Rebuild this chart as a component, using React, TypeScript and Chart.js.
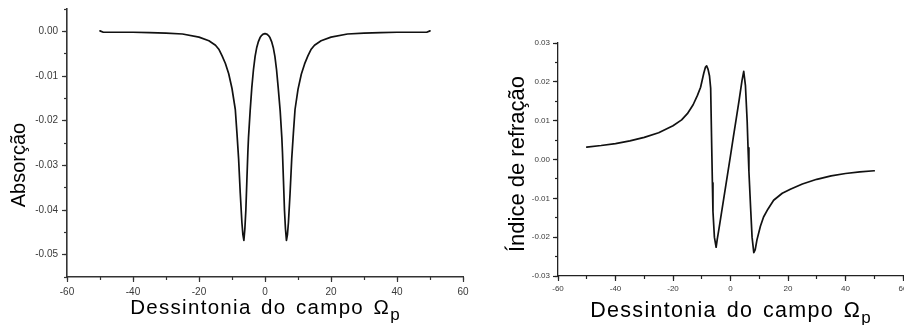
import React, { useEffect, useRef } from "react";
import { Chart, registerables } from "chart.js";

Chart.register(...registerables);

const FONT = "'Liberation Sans', Arial, sans-serif";

// ---- Absorption (left) ----
const absDetuning = [
  -50, -49, -45, -40, -35, -30, -25, -20, -17, -15, -14, -13, -12, -11, -10, -9, -8.5, -8, -7.5, -7, -6.7, -6.4,
  -6.1, -5.8, -5.5, -5.2, -5, -4.5, -4, -3.5, -3, -2.5, -2, -1.5, -1, -0.5, 0,
  0.5, 1, 1.5, 2, 2.5, 3, 3.5, 4, 4.6, 5.1, 5.3, 5.6, 5.9, 6.2, 6.5, 6.8, 7.1, 7.6, 8.1, 8.6, 9.1,
  10, 11, 12, 13, 14, 15, 17, 20, 25, 30, 35, 40, 45, 49, 50,
];
const absValues = [
  0.0001, -0.0002, -0.0002, -0.0002, -0.0003, -0.0004, -0.0006, -0.0013, -0.0021, -0.0031, -0.004, -0.0055, -0.0072,
  -0.0095, -0.0128, -0.0175, -0.0228, -0.0285, -0.0362, -0.0428, -0.0455, -0.0468,
  -0.0442, -0.04, -0.0335, -0.0272, -0.0238, -0.0178, -0.0126, -0.0086, -0.0056, -0.0036, -0.0023, -0.0014, -0.0009,
  -0.0006, -0.0005,
  -0.0006, -0.0009, -0.0014, -0.0023, -0.0036, -0.0056, -0.0086, -0.0126, -0.0178, -0.0238, -0.0272, -0.0335, -0.04,
  -0.0442, -0.0468, -0.0455, -0.0428, -0.0362, -0.0285, -0.0228, -0.0175,
  -0.013, -0.0096, -0.0073, -0.0055, -0.004, -0.0031, -0.0021, -0.0013, -0.0006, -0.0004, -0.0003, -0.0002, -0.0002,
  -0.0002, 0.0001,
];

// ---- Refraction (right) ----
const refDetuning = [
  -50, -45, -40, -35, -30, -25, -20, -17, -15, -13, -11.5, -10.4, -9.3, -8.7, -8.3, -7.8, -7.3, -6.9, -6.6, -6.3,
  -6.1, -5.6, -5.0, -4.6, -4, -3, -2, -1, 0, 1, 2, 3, 4, 4.6, 5.2, 5.8, 6.1, 6.4, 7.0, 7.5, 8.1, 8.6, 9.2, 10.4,
  11.5, 13, 15, 18, 21, 25, 30, 35, 40, 45, 50,
];
const refValues = [
  0.0032, 0.0036, 0.0041, 0.0048, 0.0057, 0.0069, 0.0087, 0.0102, 0.0118, 0.0141, 0.0165, 0.0186, 0.0222, 0.0238,
  0.0241, 0.0232, 0.0215, 0.0184, 0.006, -0.006, -0.0134, -0.02, -0.0226, -0.0205, -0.0178, -0.0131, -0.0084,
  -0.0037, 0.001, 0.0058, 0.0105, 0.0153, 0.0203, 0.0227, 0.019, 0.0098, 0.003, -0.003, -0.0125, -0.02, -0.024,
  -0.0232, -0.0207, -0.0172, -0.0148, -0.0128, -0.0105, -0.0087, -0.0076, -0.0063, -0.0051, -0.0042, -0.0036,
  -0.0032, -0.0029,
];

const xTitle = "Dessintonia do campo Ω";
const xTitleSub = "p";
const absTitle = "Absorção";
const refTitle = "Índice de refração";

const axisTitlePlugin = {
  id: "axisTitles",
  afterDraw(chart: any, _args: any, opts: any) {
    const { ctx, chartArea: ca } = chart;
    ctx.save();
    ctx.fillStyle = "#000";
    ctx.textBaseline = "alphabetic";
    ctx.textAlign = "left";
    const mainFont = `${opts.xSize}px ${FONT}`;
    const subFont = `${opts.subSize}px ${FONT}`;
    ctx.font = mainFont;
    const chars = Array.from(opts.xText as string);
    const widths = chars.map((c) => ctx.measureText(c).width + (c === " " ? opts.wordExtra : 0));
    const mainW = widths.reduce((a, b) => a + b, 0) + opts.xSpacing * (chars.length - 1);
    ctx.font = subFont;
    const subW = ctx.measureText(opts.xSub).width;
    const total = mainW + opts.subGap + subW;
    let x = (ca.left + ca.right) / 2 - total / 2;
    const baseY = ca.bottom + opts.xBaseline;
    ctx.font = mainFont;
    chars.forEach((c, i) => {
      ctx.fillText(c, x, baseY);
      x += widths[i] + opts.xSpacing;
    });
    x += opts.subGap - opts.xSpacing;
    ctx.font = subFont;
    ctx.fillText(opts.xSub, x, baseY + opts.subDrop);

    ctx.translate(ca.left + opts.yBaseline, (ca.top + ca.bottom) / 2 + opts.yShift);
    ctx.rotate(-Math.PI / 2);
    ctx.font = `${opts.ySize}px ${FONT}`;
    ctx.textAlign = "center";
    ctx.fillText(opts.yText, 0, 0);
    ctx.restore();
  },
};

function fmt2(v: number) {
  if (Math.abs(v) < 1e-9) return "0.00";
  return Number(v).toFixed(2);
}

function makeScales(cfg: any) {
  const zeroPad = (s: any) => {
    s.paddingLeft = 0;
    s.paddingRight = 0;
    s.paddingTop = 0;
    s.paddingBottom = 0;
  };
  return {
    x: {
      type: "linear",
      position: "bottom",
      weight: 1,
      min: -60,
      max: 60,
      ticks: {
        stepSize: 20,
        autoSkip: false,
        maxRotation: 0,
        padding: cfg.xPad,
        color: "#3a3a3a",
        font: { family: FONT, size: cfg.tickSize },
      },
      grid: { display: true, drawOnChartArea: false, drawTicks: true, tickLength: 5, tickColor: cfg.axisColor, tickWidth: 1.2 },
      border: { display: true, color: cfg.axisColor, width: cfg.axisWidth },
      afterFit: (s: any) => {
        s.height = cfg.xHeight;
        zeroPad(s);
      },
    },
    xMinor: {
      type: "linear",
      position: "bottom",
      weight: 0,
      min: -60,
      max: 60,
      ticks: { stepSize: 10, display: false, autoSkip: false },
      grid: { display: true, drawOnChartArea: false, drawTicks: true, tickLength: 3, tickColor: cfg.axisColor, tickWidth: 1.2 },
      border: { display: false },
      afterFit: (s: any) => {
        s.height = 0;
        zeroPad(s);
      },
    },
    y: {
      type: "linear",
      position: "left",
      weight: 1,
      min: cfg.yMin,
      max: cfg.yMax,
      ticks: {
        stepSize: 0.005,
        autoSkip: false,
        padding: cfg.yPad,
        color: "#3a3a3a",
        font: { family: FONT, size: cfg.tickSize },
        callback: (v: any) => fmt2(Number(v)),
      },
      afterBuildTicks: (s: any) => {
        s.ticks = s.ticks.filter((t: any) => Math.abs(t.value * 100 - Math.round(t.value * 100)) < 1e-6);
      },
      grid: { display: true, drawOnChartArea: false, drawTicks: true, tickLength: 5, tickColor: cfg.axisColor, tickWidth: 1.2 },
      border: { display: true, color: cfg.axisColor, width: cfg.axisWidth },
      afterFit: (s: any) => {
        s.width = cfg.yWidth;
        zeroPad(s);
      },
    },
    yMinor: {
      type: "linear",
      position: "left",
      weight: 0,
      min: cfg.yMin,
      max: cfg.yMax,
      ticks: { stepSize: 0.005, display: false, autoSkip: false },
      grid: { display: true, drawOnChartArea: false, drawTicks: true, tickLength: 3, tickColor: cfg.axisColor, tickWidth: 1.2 },
      border: { display: false },
      afterFit: (s: any) => {
        s.width = 0;
        zeroPad(s);
      },
    },
  };
}

function PlotCanvas(props: { xs: number[]; ys: number[]; cfg: any; width: number; left: number }) {
  const ref = useRef<HTMLCanvasElement | null>(null);
  useEffect(() => {
    if (!ref.current) return;
    const { cfg } = props;
    const chart = new Chart(ref.current, {
      type: "line",
      data: {
        datasets: [
          {
            data: props.xs.map((x, i) => ({ x, y: props.ys[i] })),
            borderColor: "#111",
            borderWidth: 1.7,
            borderJoinStyle: "round",
            borderCapStyle: "round",
            pointRadius: 0,
            tension: 0,
            fill: false,
          },
        ],
      },
      options: {
        responsive: false,
        animation: false,
        layout: { padding: cfg.padding },
        plugins: {
          legend: { display: false },
          tooltip: { enabled: false },
          axisTitles: cfg.titles,
        } as any,
        scales: makeScales(cfg) as any,
      },
      plugins: [axisTitlePlugin],
    });
    return () => chart.destroy();
  }, []);
  return (
    <canvas
      ref={ref}
      width={props.width}
      height={325}
      style={{ position: "absolute", left: props.left, top: 0, width: props.width, height: 325 }}
    />
  );
}

const leftCfg = {
  padding: { left: 0, right: 7, top: 9, bottom: 0 },
  xHeight: 48,
  yWidth: 67,
  yMin: -0.055,
  yMax: 0.005,
  tickSize: 10,
  xPad: 4,
  yPad: 4,
  axisColor: "#333",
  axisWidth: 1.6,
  titles: {
    xText: xTitle,
    xSub: xTitleSub,
    xSize: 20.5,
    subSize: 17,
    xSpacing: 1.3,
    wordExtra: 2.5,
    subGap: 1.5,
    subDrop: 6,
    xBaseline: 37,
    yText: absTitle,
    ySize: 20,
    yBaseline: -42,
    yShift: 22,
  },
};

const rightCfg = {
  padding: { left: 0, right: 1, top: 43, bottom: 0 },
  xHeight: 49,
  yWidth: 88,
  yMin: -0.03,
  yMax: 0.03,
  tickSize: 8,
  xPad: 3,
  yPad: 3,
  axisColor: "#222",
  axisWidth: 1.3,
  titles: {
    xText: xTitle,
    xSub: xTitleSub,
    xSize: 21.5,
    subSize: 17,
    xSpacing: 1.3,
    wordExtra: 2.5,
    subGap: 1.5,
    subDrop: 6,
    xBaseline: 40.5,
    yText: refTitle,
    ySize: 22,
    yBaseline: -34.5,
    yShift: 4.5,
  },
};

export default function App() {
  return (
    <div style={{ position: "absolute", left: 0, top: 0, width: 904, height: 325, background: "#fff", overflow: "hidden" }}>
      <PlotCanvas xs={absDetuning} ys={absValues} cfg={leftCfg} width={470} left={0} />
      <PlotCanvas xs={refDetuning} ys={refValues} cfg={rightCfg} width={434} left={470} />
    </div>
  );
}
